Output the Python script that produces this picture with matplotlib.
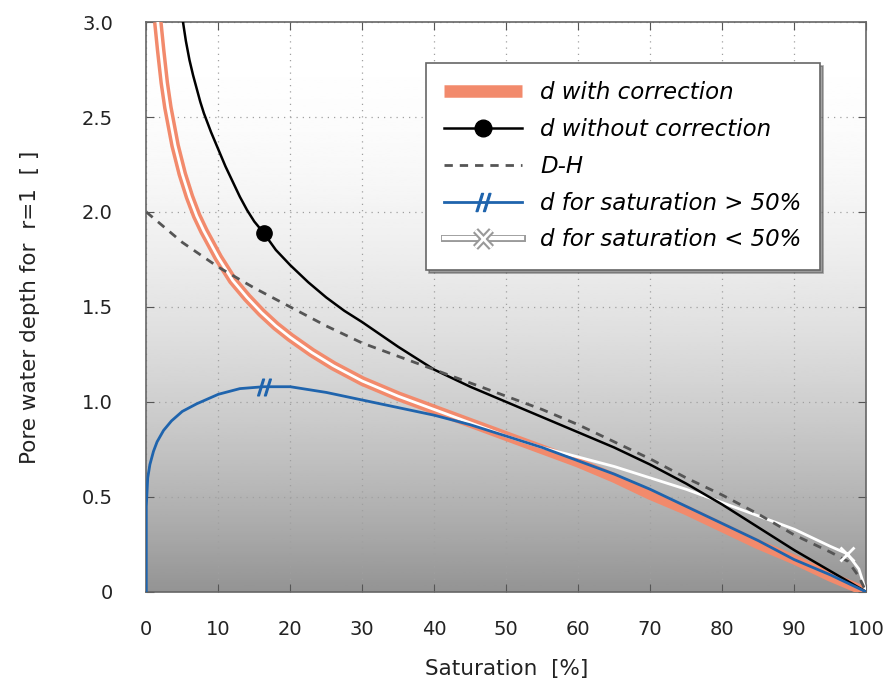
import numpy as np
import matplotlib
matplotlib.use("Agg")
from matplotlib import pyplot as plt
from matplotlib.lines import Line2D
import matplotlib.patheffects as pe

plt.rcParams['font.family'] = ['DejaVu Sans']

# d with correction
corr_x = [1.6, 2.0, 2.5, 3, 4, 5, 6, 7, 8, 10, 12, 14, 16, 18, 20, 23, 26, 30, 35, 40, 45, 50, 55,
          60, 65, 70, 75, 80, 85, 90, 95, 100]
corr_y = [3.0, 2.85, 2.68, 2.55, 2.35, 2.2, 2.08, 1.98, 1.9, 1.76, 1.64, 1.55, 1.47, 1.4, 1.34, 1.26,
          1.19, 1.11, 1.03, 0.96, 0.89, 0.82, 0.75, 0.68, 0.6, 0.51, 0.43, 0.34, 0.25, 0.17, 0.08, 0.0]

# d without correction
nocorr_x = [5.1, 5.5, 6, 6.5, 7, 7.5, 8, 9, 10, 11, 12, 13, 14, 15, 16.3, 18, 20, 22.5, 25, 27.5,
            30, 35, 40, 45, 50, 55, 60, 65, 70, 75, 80, 85, 90, 95, 100]
nocorr_y = [3.0, 2.9, 2.8, 2.72, 2.65, 2.58, 2.52, 2.42, 2.33, 2.24, 2.16, 2.08, 2.01, 1.95, 1.89,
            1.8, 1.72, 1.63, 1.55, 1.48, 1.42, 1.29, 1.17, 1.08, 1.0, 0.92, 0.84, 0.76, 0.67, 0.57,
            0.46, 0.34, 0.22, 0.11, 0.0]
nocorr_mark = [16.3]
nocorr_mark_y = [1.89]

# D-H
dh_x = [0, 5, 10, 15, 20, 25, 30, 35, 40, 45, 50, 55, 60, 65, 70, 75, 80, 85, 90, 95, 97.5, 99, 100]
dh_y = [2.0, 1.84, 1.71, 1.6, 1.5, 1.4, 1.31, 1.24, 1.17, 1.1, 1.03, 0.96, 0.88, 0.79, 0.7, 0.6,
        0.51, 0.41, 0.3, 0.21, 0.16, 0.08, 0.0]

# d for saturation > 50%
hi_x = [0, 0, 0.2, 0.5, 1, 1.5, 2.4, 3.5, 5, 7, 10, 13, 16.3, 20, 25, 30, 35, 40, 45, 50, 55, 60,
        65, 70, 75, 80, 85, 90, 95, 100]
hi_y = [0.0, 0.45, 0.6, 0.67, 0.74, 0.79, 0.85, 0.9, 0.95, 0.99, 1.04, 1.07, 1.08, 1.08, 1.05, 1.01,
        0.97, 0.93, 0.88, 0.82, 0.76, 0.69, 0.62, 0.54, 0.45, 0.36, 0.27, 0.17, 0.09, 0.0]
hi_mark = [16.3]
hi_mark_y = [1.08]

# d for saturation < 50%
lo_x = [1.6, 2.0, 2.5, 3, 4, 5, 6, 7, 8, 10, 12, 14, 16, 18, 20, 23, 26, 30, 35, 40, 45, 50, 55,
        60, 65, 70, 75, 80, 85, 90, 95, 97.4, 99, 100]
lo_y = [3.0, 2.85, 2.68, 2.55, 2.35, 2.2, 2.08, 1.98, 1.9, 1.76, 1.64, 1.55, 1.47, 1.4, 1.34, 1.26,
        1.19, 1.11, 1.03, 0.96, 0.89, 0.82, 0.76, 0.71, 0.66, 0.6, 0.54, 0.47, 0.4, 0.33, 0.24, 0.2,
        0.12, 0.0]
lo_mark = [97.4]
lo_mark_y = [0.2]

x_ticks = [0, 10, 20, 30, 40, 50, 60, 70, 80, 90, 100]
y_ticks = [0, 0.5, 1.0, 1.5, 2.0, 2.5, 3.0]
y_tick_labels = ['0', '0.5', '1.0', '1.5', '2.0', '2.5', '3.0']

orange = '#f28a6c'
blue = '#1f64ad'

fig = plt.figure(figsize=(8.92, 6.89), dpi=100)
ax = fig.add_axes([0.164, 0.141, 0.807, 0.827])

# grey gradient background
t = np.linspace(0, 1, 256).reshape(-1, 1)
shade = 1 - 0.42 * (1 - t) ** 2
ax.imshow(shade, cmap='gray', vmin=0, vmax=1, origin='lower', aspect='auto',
          extent=[0, 100, 0, 3], zorder=0)

ax.grid(True, color='#a0a0a0', linestyle=(0, (1, 4)), linewidth=0.9, zorder=1)

ax.plot(corr_x, corr_y, color=orange, lw=7, solid_capstyle='butt', zorder=3)
ax.plot(lo_x, lo_y, color='white', lw=2, zorder=4)
ax.plot(nocorr_x, nocorr_y, color='black', lw=1.8, zorder=5)
ax.plot(dh_x, dh_y, color='#555555', lw=2, linestyle=(0, (3, 2.5)), zorder=5)
ax.plot(hi_x, hi_y, color=blue, lw=2, zorder=6)
ax.plot(nocorr_mark, nocorr_mark_y, 'o', color='black', ms=11, zorder=7)
ax.plot(hi_mark, hi_mark_y, marker='$//$', color=blue, ms=12, linestyle='none', zorder=7)
ax.plot(lo_mark, lo_mark_y, 'x', color='white', ms=10, mew=2, zorder=7)

ax.set_xlim(0, 100)
ax.set_ylim(0, 3)
ax.set_xticks(x_ticks)
ax.set_yticks(y_ticks)
ax.set_yticklabels(y_tick_labels)
ax.tick_params(direction='in', top=True, right=True, length=6, color='#555555',
               labelsize=14, labelcolor='#222222')
ax.tick_params(axis='x', pad=20)
ax.tick_params(axis='y', pad=24)
for s in ax.spines.values():
    s.set_color('#666666')
    s.set_linewidth(1.2)

ax.set_xlabel('Saturation  [%]', fontsize=15.5, color='#222222', labelpad=15)
ax.set_ylabel('Pore water depth for  r=1  [ ]', fontsize=15.5, color='#222222', labelpad=30)

handles = [
    Line2D([], [], color=orange, lw=9, solid_capstyle='butt'),
    Line2D([], [], color='black', lw=1.8, marker='o', ms=12),
    Line2D([], [], color='#555555', lw=2, linestyle=(0, (3, 2.5))),
    Line2D([], [], color=blue, lw=2, marker='$//$', ms=13),
    Line2D([], [], color='white', lw=3, marker='x', ms=12, mew=2, mec='white',
           path_effects=[pe.Stroke(linewidth=5, foreground='#999999'), pe.Normal()]),
]
labels = ['d with correction', 'd without correction', 'D-H',
          'd for saturation > 50%', 'd for saturation < 50%']
leg = ax.legend(handles, labels, loc='upper right', bbox_to_anchor=(0.952, 0.948),
                fancybox=False, shadow=True, framealpha=1, edgecolor='#666666',
                prop={'style': 'italic', 'size': 16.5}, handlelength=3.4, borderpad=0.8,
                labelspacing=0.6, handletextpad=0.8)
leg.get_frame().set_linewidth(1.2)
leg.set_zorder(10)

fig.savefig('out.png', dpi=100)
